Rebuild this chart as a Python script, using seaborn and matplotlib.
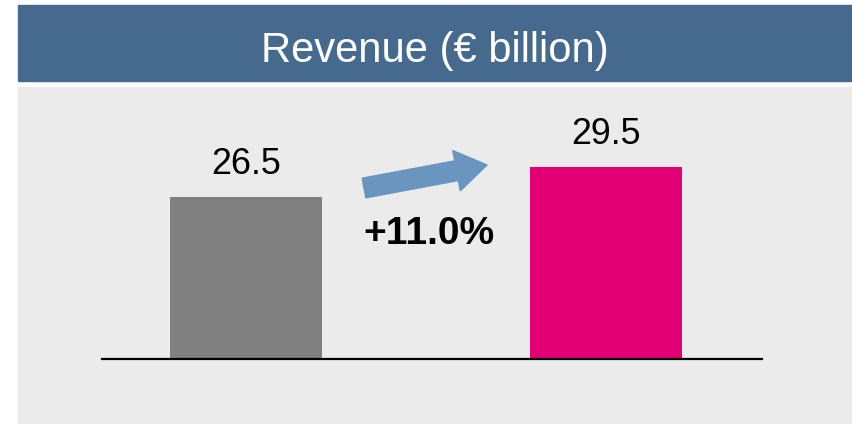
import matplotlib
matplotlib.use("Agg")
import matplotlib.pyplot as plt
from matplotlib import font_manager
from matplotlib.patches import Rectangle, FancyArrow
from matplotlib.transforms import IdentityTransform
import seaborn as sns
import pandas as pd

# revenue, two periods (no x labels shown in the original)
periods = ["Prior year", "Current year"]
revenue = [26.5, 29.5]
bar_colors = ["#808080", "#e20074"]
title = "Revenue (€ billion)"
change_label = "+11.0%"

W, H = 853, 424

sns.set_theme(style="white")
installed = {f.name for f in font_manager.fontManager.ttflist}
if "Liberation Sans Narrow" in installed:
	narrow, scale = "Liberation Sans Narrow", 1.0
else:
	narrow, scale = "Liberation Sans", 0.86
plt.rcParams["font.family"] = ["Liberation Sans", "DejaVu Sans"]

fig = plt.figure(figsize=(W / 100, H / 100), dpi=100)
fig.patch.set_facecolor("white")

# title banner and grey panel (pixel boxes -> figure fraction)
def box(x0, y0, x1, y1, color):
	fig.patches.append(Rectangle((x0 / W, 1 - y1 / H), (x1 - x0) / W, (y1 - y0) / H,
		transform=fig.transFigure, color=color, zorder=-2))

box(18, 5, 851, 81, "#456a8e")
box(18, 87, 851, 424, "#ebebeb")

fig.text(435 / W, 1 - 62 / H, title, ha="center", va="baseline", color="white",
	fontsize=35 * scale, family=[narrow, "DejaVu Sans"])

ax = fig.add_axes([102 / W, 65 / H, 660 / W, 259 / H])
ax.set_facecolor("none")
ax.set_zorder(1)

df = pd.DataFrame({"period": periods, "revenue": revenue})
sns.barplot(data=df, x="period", y="revenue", hue="period", palette=bar_colors,
	width=0.423, saturation=1, legend=False, linewidth=0, ax=ax)

ax.set_xlim(-0.4006, 1.435)
ax.set_ylim(10.3, 36.2)
ax.set_xticks([])
ax.set_yticks([])
ax.set_xlabel("")
ax.set_ylabel("")
for s in ["top", "left", "right"]:
	ax.spines[s].set_visible(False)
ax.spines["bottom"].set_color("black")
ax.spines["bottom"].set_linewidth(1.6)
ax.spines["bottom"].set_zorder(5)

for i, v in enumerate(revenue):
	ax.text(i, v + 2.3, "%.1f" % v, ha="center", va="baseline", color="black",
		fontsize=30 * scale, family=[narrow, "DejaVu Sans"])

# growth arrow and label
arrow = FancyArrow(364, H - 188, 123, 23, width=20, head_width=41, head_length=31,
	length_includes_head=True, color="#6a95be", transform=IdentityTransform(), zorder=3)
fig.patches.append(arrow)
fig.text(429 / W, 1 - 244 / H, change_label, ha="center", va="baseline", color="black",
	fontsize=28, fontweight="bold")

fig.savefig("out.png", dpi=100)
